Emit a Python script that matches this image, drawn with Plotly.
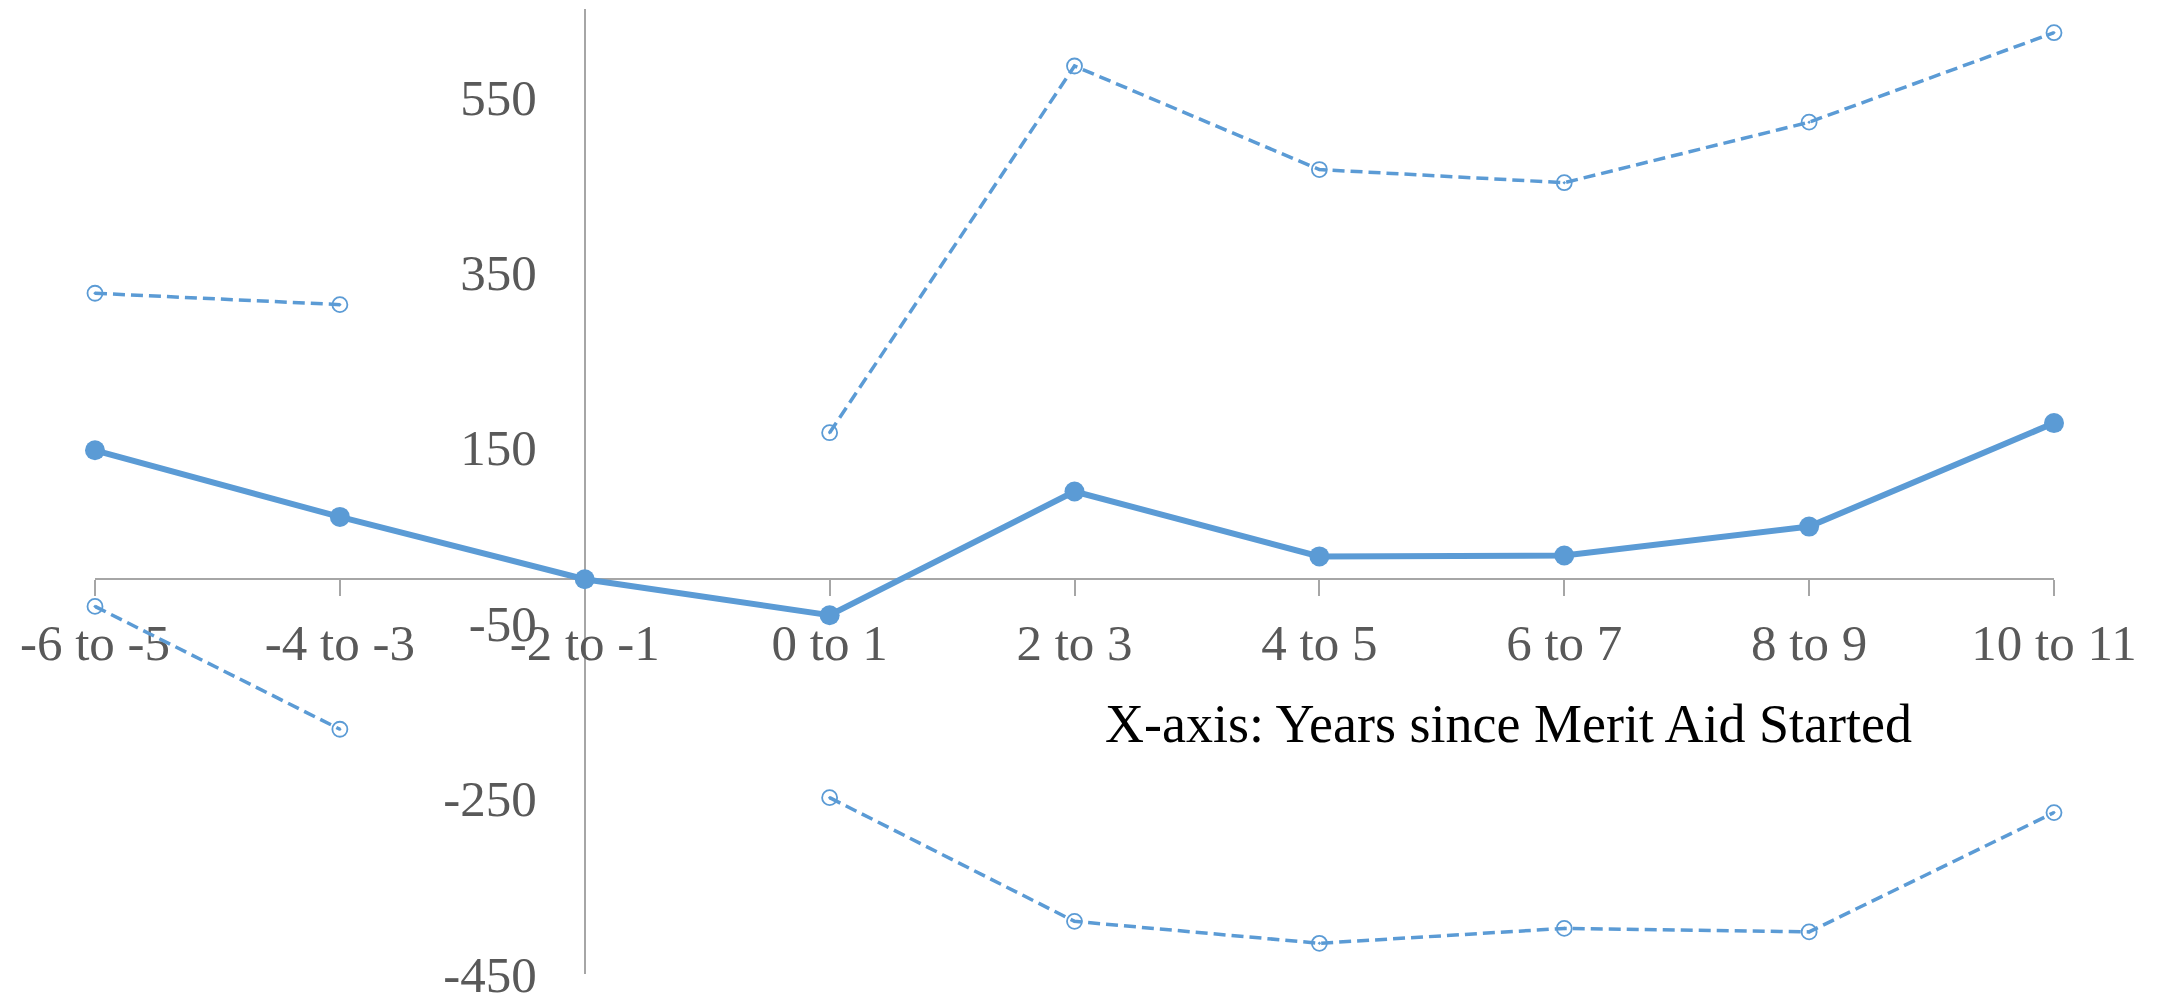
import plotly.graph_objects as go

categories = ["-6 to -5", "-4 to -3", "-2 to -1", "0 to 1", "2 to 3", "4 to 5", "6 to 7", "8 to 9", "10 to 11"]
estimate = [147, 71, 0, -41, 100, 26, 27, 60, 178]
upper_ci = [326, 313, None, 167, 585, 467, 452, 521, 623]
lower_ci = [-31, -171, None, -249, -390, -415, -398, -402, -266]
y_ticks = [-450, -250, -50, 150, 350, 550]

BLUE = "#5B9BD5"
FONT = "Liberation Serif"

fig = go.Figure()
for vals in (upper_ci, lower_ci):
    fig.add_trace(go.Scatter(
        x=categories, y=vals, mode="lines+markers", connectgaps=False,
        line=dict(color=BLUE, width=3.5, dash="12px,6px"),
        marker=dict(symbol="circle-open-dot", size=15, color=BLUE, line=dict(width=1.8, color=BLUE)),
        cliponaxis=False, showlegend=False, hoverinfo="skip"))
fig.add_trace(go.Scatter(
    x=categories, y=estimate, mode="lines+markers",
    line=dict(color=BLUE, width=6),
    marker=dict(symbol="circle", size=20, color=BLUE),
    cliponaxis=False, showlegend=False))

fig.update_layout(
    width=2158, height=996,
    margin=dict(l=87, r=112, t=1, b=24),
    paper_bgcolor="white", plot_bgcolor="white",
    font=dict(family=FONT, size=51, color="#595959"),
    xaxis=dict(
        type="category", categoryorder="array", categoryarray=categories,
        range=[0, len(categories) - 1], domain=[0, 1],
        anchor="free", position=450 / 1100,
        showgrid=False, zeroline=False,
        showline=True, linecolor="#A6A6A6", linewidth=1.5,
        ticks="outside", ticklen=16, tickcolor="#A6A6A6", tickwidth=1.5,
        tickfont=dict(family=FONT, size=51, color="#595959"),
        ticklabelstandoff=3, ticklabeloverflow="allow",
        layer="below traces",
    ),
    yaxis=dict(
        range=[-450, 650], domain=[0, 1],
        anchor="free", position=2 / 8,
        tickvals=y_ticks, ticktext=[str(v) for v in y_ticks],
        showgrid=False, zeroline=False,
        showline=True, linecolor="#A6A6A6", linewidth=1.5,
        ticks="",
        tickfont=dict(family=FONT, size=51, color="#595959"),
        ticklabelstandoff=37, ticklabeloverflow="allow",
        layer="below traces",
    ),
    annotations=[dict(
        text="X-axis: Years since Merit Aid Started",
        xref="paper", yref="paper", x=(1508 - 95) / 1959, y=(980 - 728) / 971,
        xanchor="center", yanchor="middle", showarrow=False,
        font=dict(family=FONT, size=54, color="black"))],
)

fig.write_html("out.html")
